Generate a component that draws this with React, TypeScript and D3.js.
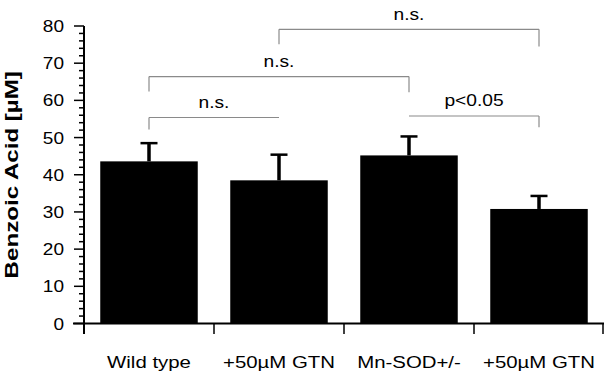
import React, { useEffect, useRef } from "react";
import * as d3 from "d3";

const categories = ["Wild type", "+50\u00b5M GTN", "Mn-SOD+/-", "+50\u00b5M GTN"];
const means = [43.6, 38.5, 45.2, 30.8];
const errors = [4.9, 6.9, 5.1, 3.5];
const yTicks = [0, 10, 20, 30, 40, 50, 60, 70, 80];

// brackets: from / to category index, level and drop ends in data units
const bracketFrom = [0, 0, 1, 2];
const bracketTo = [1, 2, 3, 3];
const bracketLevel = [55.4, 66.4, 79.1, 55.8];
const bracketDropL = [52.2, 62.4, 75.1, null];
const bracketDropR = [null, 62.2, 74.5, 52.8];
const bracketLabel = ["n.s.", "n.s.", "n.s.", "p<0.05"];

export default function App() {
  const svgRef = useRef<SVGSVGElement>(null);
  const width = 604;
  const height = 375;

  useEffect(() => {
    if (!svgRef.current) return;
    const svg = d3.select(svgRef.current);
    svg.selectAll("*").remove();

    const font = "Arial, 'Liberation Sans', sans-serif";
    const axisX = 84;
    const x = d3
      .scaleBand<number>()
      .domain(d3.range(categories.length))
      .range([axisX, 604])
      .paddingInner(0.25)
      .paddingOuter(0.125);
    const y = d3.scaleLinear().domain([0, 80]).range([323.5, 26]);
    const cx = (i: number) => (x(i) ?? 0) + x.bandwidth() / 2;

    svg.append("rect").attr("width", width).attr("height", height).attr("fill", "#fff");

    // bars
    svg
      .selectAll("rect.bar")
      .data(means)
      .enter()
      .append("rect")
      .attr("class", "bar")
      .attr("x", (_, i) => x(i) ?? 0)
      .attr("width", x.bandwidth())
      .attr("y", (d) => y(d))
      .attr("height", (d) => y(0) - y(d))
      .attr("fill", "#000");

    // error bars (upper only)
    means.forEach((m, i) => {
      svg
        .append("line")
        .attr("x1", cx(i))
        .attr("x2", cx(i))
        .attr("y1", y(m))
        .attr("y2", y(m + errors[i]))
        .attr("stroke", "#000")
        .attr("stroke-width", 3.5);
      svg
        .append("line")
        .attr("x1", cx(i) - 8.5)
        .attr("x2", cx(i) + 8.5)
        .attr("y1", y(m + errors[i]))
        .attr("y2", y(m + errors[i]))
        .attr("stroke", "#000")
        .attr("stroke-width", 2.5);
    });

    // y axis
    svg
      .append("line")
      .attr("x1", axisX)
      .attr("x2", axisX)
      .attr("y1", y(80))
      .attr("y2", 334)
      .attr("stroke", "#000")
      .attr("stroke-width", 2);
    d3.range(0, 81, 2).forEach((v) => {
      const major = v % 10 === 0;
      svg
        .append("line")
        .attr("x1", major ? axisX - 10 : axisX - 5)
        .attr("x2", axisX)
        .attr("y1", y(v))
        .attr("y2", y(v))
        .attr("stroke", "#000")
        .attr("stroke-width", 1.5);
    });
    yTicks.forEach((v) => {
      svg
        .append("text")
        .attr("transform", `translate(64,${y(v) + 6}) scale(1.12,1)`)
        .attr("text-anchor", "end")
        .attr("fill", "#000")
        .attr("font-family", font)
        .attr("font-size", 17)
        .text(v);
    });

    // x axis
    svg
      .append("line")
      .attr("x1", axisX - 11)
      .attr("x2", 604)
      .attr("y1", y(0))
      .attr("y2", y(0))
      .attr("stroke", "#000")
      .attr("stroke-width", 2);
    categories.forEach((_, i) => {
      const bx = (x(i) ?? 0) + x.bandwidth() + (x.step() - x.bandwidth()) / 2;
      svg
        .append("line")
        .attr("x1", Math.min(bx, 603))
        .attr("x2", Math.min(bx, 603))
        .attr("y1", y(0))
        .attr("y2", 334)
        .attr("stroke", "#000")
        .attr("stroke-width", 1.5);
    });
    categories.forEach((c, i) => {
      svg
        .append("text")
        .attr("transform", `translate(${cx(i)},368) scale(1.2,1)`)
        .attr("text-anchor", "middle")
        .attr("fill", "#000")
        .attr("font-family", font)
        .attr("font-size", 17)
        .text(c);
    });

    // y title
    svg
      .append("text")
      .attr("transform", `translate(18,${(y(0) + y(80)) / 2}) rotate(-90) scale(1.27,1)`)
      .attr("text-anchor", "middle")
      .attr("fill", "#000")
      .attr("font-family", font)
      .attr("font-size", 19)
      .attr("font-weight", "bold")
      .text("Benzoic Acid [\u00b5M]");

    // significance brackets
    const gray = "#8a8a8a";
    bracketLabel.forEach((lab, k) => {
      const x1 = cx(bracketFrom[k]);
      const x2 = cx(bracketTo[k]);
      const ly = y(bracketLevel[k]);
      svg
        .append("line")
        .attr("x1", x1)
        .attr("x2", x2)
        .attr("y1", ly)
        .attr("y2", ly)
        .attr("stroke", gray)
        .attr("stroke-width", 1.2);
      const dl = bracketDropL[k];
      if (dl !== null) {
        svg
          .append("line")
          .attr("x1", x1)
          .attr("x2", x1)
          .attr("y1", ly)
          .attr("y2", y(dl))
          .attr("stroke", gray)
          .attr("stroke-width", 1.2);
      }
      const dr = bracketDropR[k];
      if (dr !== null) {
        svg
          .append("line")
          .attr("x1", x2)
          .attr("x2", x2)
          .attr("y1", ly)
          .attr("y2", y(dr))
          .attr("stroke", gray)
          .attr("stroke-width", 1.2);
      }
      svg
        .append("text")
        .attr("transform", `translate(${(x1 + x2) / 2},${ly - 9.5}) scale(1.2,1)`)
        .attr("text-anchor", "middle")
        .attr("fill", "#000")
        .attr("font-family", font)
        .attr("font-size", 16)
        .text(lab);
    });
  }, []);

  return (
    <svg
      ref={svgRef}
      width={width}
      height={height}
      viewBox={`0 0 ${width} ${height}`}
      style={{ position: "absolute", left: 0, top: 0 }}
    />
  );
}
